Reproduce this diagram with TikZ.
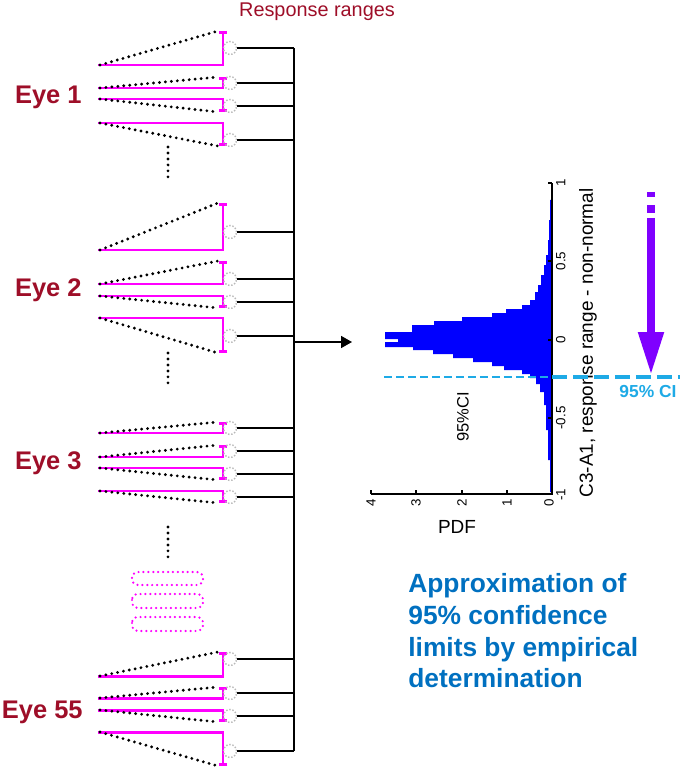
\documentclass[tikz,border=0pt]{standalone}
\usepackage{fontspec}
\setmainfont{Liberation Sans}
\usepackage{xcolor}
\usepackage{tikz}
\usetikzlibrary{arrows.meta,positioning}

\definecolor{eyered}{RGB}{158,14,40}
\definecolor{rngmag}{RGB}{255,0,255}
\definecolor{cicyan}{RGB}{30,170,230}
\definecolor{arrpurple}{RGB}{127,0,255}
\definecolor{noteblue}{RGB}{0,112,192}

\begin{document}
\begin{tikzpicture}[x=0.02cm, y=-0.02cm,
  rng/.style={draw=rngmag, line width=1.7pt, -{Bar[width=0.17cm]}},
  dotln/.style={line width=1.8pt, line cap=round, dash pattern=on 0pt off 3.4pt},
  ring/.style={circle, draw=gray!55, densely dotted, line width=0.8pt,
    minimum size=0.26cm, inner sep=0pt},
  wire/.style={line width=0.9pt},
  arr/.style={-{Triangle[length=0.22cm,width=0.24cm]}, line width=0.9pt},
  eyelbl/.style={text=eyered, font=\bfseries\fontsize{14.5}{16}\selectfont,
    anchor=east, inner sep=0pt},
  ttl/.style={text=eyered, font=\fontsize{11.3}{13}\selectfont, inner sep=0pt},
  pdots/.style={draw=rngmag, line width=1.4pt, line cap=round,
    dash pattern=on 0pt off 2.8pt, rounded corners=0.12cm},
  hist/.style={fill=blue},
  axis/.style={line width=0.6pt},
  ticklbl/.style={font=\fontsize{7.6}{9}\selectfont, rotate=90, inner sep=1pt},
  cithin/.style={draw=cicyan, line width=1.5pt, dash pattern=on 0.16cm off 0.08cm},
  cithick/.style={draw=cicyan, line width=2.5pt, dash pattern=on 0.3cm off 0.12cm},
  bigarr/.style={draw=arrpurple, line width=0.16cm,
    -{Triangle[length=0.86cm,width=0.48cm]},
    dash pattern=on 0.1cm off 0.16cm on 0.16cm off 0.1cm on 10cm},
  note/.style={text=noteblue, font=\bfseries\fontsize{15}{18.1}\selectfont,
    align=left, inner sep=0pt},
]
\useasboundingbox (0,0) rectangle (688,770);

\node[ttl] (rtitle) at (317,12) {Response ranges};

% bus to the histogram
\coordinate (bustop) at (294,48);
\coordinate (busbot) at (294,751);
\coordinate (busout) at (294,342);
\coordinate (histin) at (352,342);
\draw[wire] (bustop) -- (busbot);
\draw[arr]  (busout) -- (histin);

% Eye 1
\node[eyelbl] (eye1) at (82,97) {Eye 1};
\draw[rng] (98,65) -| (223,31);
\draw[dotln] (100,65) -- (218,31);
\node[ring] (r11) at (230,48) {};
\draw[wire] (r11) -- (r11 -| bustop);
\draw[rng] (98,88) -| (223,77);
\draw[dotln] (100,88) -- (218,77);
\node[ring] (r12) at (230,83) {};
\draw[wire] (r12) -- (r12 -| bustop);
\draw[rng] (98,99) -| (223,112);
\draw[dotln] (100,99) -- (218,112);
\node[ring] (r13) at (230,106) {};
\draw[wire] (r13) -- (r13 -| bustop);
\draw[rng] (98,123) -| (223,146);
\draw[dotln] (100,123) -- (218,146);
\node[ring] (r14) at (230,140) {};
\draw[wire] (r14) -- (r14 -| bustop);
\draw[dotln] (168,147) -- (168,177);

% Eye 2
\node[eyelbl] (eye2) at (82,290) {Eye 2};
\draw[rng] (98,250) -| (223,203);
\draw[dotln] (100,250) -- (218,203);
\node[ring] (r21) at (230,232) {};
\draw[wire] (r21) -- (r21 -| bustop);
\draw[rng] (98,284) -| (223,261);
\draw[dotln] (100,284) -- (218,261);
\node[ring] (r22) at (230,279) {};
\draw[wire] (r22) -- (r22 -| bustop);
\draw[rng] (98,296) -| (223,308);
\draw[dotln] (100,296) -- (218,308);
\node[ring] (r23) at (230,302) {};
\draw[wire] (r23) -- (r23 -| bustop);
\draw[rng] (98,318) -| (223,353);
\draw[dotln] (100,318) -- (218,353);
\node[ring] (r24) at (230,336) {};
\draw[wire] (r24) -- (r24 -| bustop);
\draw[dotln] (168,353) -- (168,383);

% Eye 3
\node[eyelbl] (eye3) at (82,463) {Eye 3};
\draw[rng] (98,433) -| (223,422);
\draw[dotln] (100,433) -- (218,422);
\node[ring] (r31) at (230,428) {};
\draw[wire] (r31) -- (r31 -| bustop);
\draw[rng] (98,457) -| (223,445);
\draw[dotln] (100,457) -- (218,445);
\node[ring] (r32) at (230,451) {};
\draw[wire] (r32) -- (r32 -| bustop);
\draw[rng] (98,468) -| (223,480);
\draw[dotln] (100,468) -- (218,480);
\node[ring] (r33) at (230,474) {};
\draw[wire] (r33) -- (r33 -| bustop);
\draw[rng] (98,491) -| (223,503);
\draw[dotln] (100,491) -- (218,503);
\node[ring] (r34) at (230,497) {};
\draw[wire] (r34) -- (r34 -| bustop);
\draw[dotln] (168,527) -- (168,557);

% eyes left out
\draw[pdots] (132,572) rectangle (203,585);
\draw[pdots] (132,594) rectangle (203,608);
\draw[pdots] (132,617) rectangle (203,631);

% Eye 55
\node[eyelbl] (eye55) at (83,712) {Eye 55};
\draw[rng] (98,676) -| (223,652);
\draw[dotln] (100,676) -- (218,652);
\node[ring] (r551) at (230,659) {};
\draw[wire] (r551) -- (r551 -| bustop);
\draw[rng] (98,698) -| (223,687);
\draw[dotln] (100,698) -- (218,687);
\node[ring] (r552) at (230,693) {};
\draw[wire] (r552) -- (r552 -| bustop);
\draw[rng] (98,710) -| (223,722);
\draw[dotln] (100,710) -- (218,722);
\node[ring] (r553) at (230,716) {};
\draw[wire] (r553) -- (r553 -| bustop);
\draw[rng] (98,732) -| (223,766);
\draw[dotln] (100,732) -- (218,766);
\node[ring] (r554) at (230,751) {};
\draw[wire] (r554) -- (r554 -| bustop);

% histogram, turned on its side
\fill[hist] (552,188) -- (551,188) -- (551,200) -- (550,200) -- (550,220)
  -- (549,220) -- (549,240) -- (548,240) -- (548,255) -- (546,255) -- (546,265)
  -- (544,265) -- (544,275) -- (541,275) -- (541,285) -- (538,285) -- (538,292)
  -- (535,292) -- (535,300) -- (530,300) -- (530,305) -- (522,305) -- (522,309)
  -- (506,309) -- (506,313) -- (492,313) -- (492,317) -- (462,317) -- (462,321)
  -- (434,321) -- (434,325) -- (412,325) -- (412,332) -- (385,332) -- (385,339)
  -- (398,339) -- (398,342) -- (385,342) -- (385,347) -- (413,347) -- (413,350)
  -- (433,350) -- (433,354) -- (453,354) -- (453,358) -- (473,358) -- (473,362)
  -- (492,362) -- (492,366) -- (504,366) -- (504,370) -- (522,370) -- (522,374)
  -- (530,374) -- (530,378) -- (536,378) -- (536,384) -- (540,384) -- (540,392)
  -- (544,392) -- (544,405) -- (546,405) -- (546,430) -- (548,430) -- (548,460)
  -- (550,460) -- (550,492) -- (552,492) -- cycle;
\draw[axis] (371,494) -- (552,494) -- (552,183);
\draw[axis] (371,494) -- (371,490) (416,494) -- (416,490)
  (462,494) -- (462,490) (507,494) -- (507,490);
\draw[axis] (552,183) -- (548,183) (552,261) -- (548,261)
  (552,340) -- (548,340) (552,418) -- (548,418);
\node[ticklbl, anchor=east] (tx4) at (371,497) {4};
\node[ticklbl, anchor=east] (tx3) at (416,497) {3};
\node[ticklbl, anchor=east] (tx2) at (462,497) {2};
\node[ticklbl, anchor=east] (tx1) at (507,497) {1};
\node[ticklbl, anchor=east] (tx0) at (549,497) {0};
\node[ticklbl, anchor=north] (ty1)  at (554,183) {1};
\node[ticklbl, anchor=north] (ty05) at (554,261) {0.5};
\node[ticklbl, anchor=north] (ty0)  at (554,340) {0};
\node[ticklbl, anchor=north] (tym05) at (554,418) {-0.5};
\node[ticklbl, anchor=north] (tym1) at (554,495) {-1};
\node[font=\fontsize{10.8}{12}\selectfont] (pdf) at (457,527) {PDF};
\node[font=\fontsize{10.8}{12}\selectfont, rotate=90] (ylab) at (588,343)
  {C3-A1, response range - non-normal};
\node[font=\fontsize{9.4}{11}\selectfont, rotate=90] (cilab) at (463,417) {95\%CI};

% 95% CI limit
\coordinate (cil) at (384,377);
\coordinate (cim) at (552,377);
\coordinate (cir) at (680,377);
\draw[cithin]  (cil) -- (cim);
\draw[cithick] (cim) -- (cir);
\node[text=cicyan, font=\bfseries\fontsize{9.9}{12}\selectfont] (cinote) at (648,392) {95\% CI};
\coordinate (arrtop) at (651,192);
\coordinate (arrtip) at (651,375);
\draw[bigarr] (arrtop) -- (arrtip);

\node[note, anchor=north west] (approx) at (408,573)
  {Approximation of\\95\% confidence\\limits by empirical\\determination};
\end{tikzpicture}
\end{document}
